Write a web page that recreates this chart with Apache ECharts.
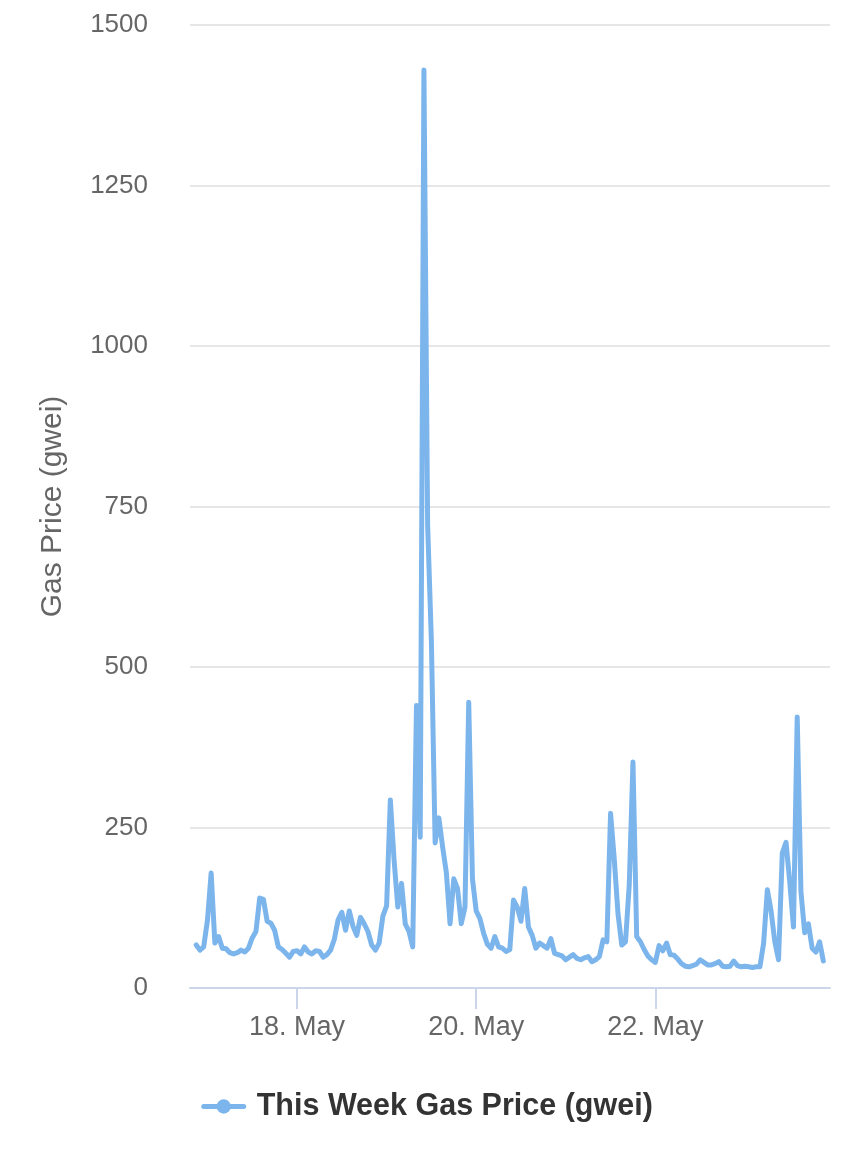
<!DOCTYPE html>
<html>
<head>
<meta charset="utf-8">
<script src="https://cdn.jsdelivr.net/npm/echarts@6/dist/echarts.min.js"></script>
<style>
html,body{margin:0;padding:0;background:#fff;}
#chart{width:854px;height:1155px;}
</style>
</head>
<body>
<div id="chart"></div>
<script>
// Hourly gas price readings (gwei), starting 16 May 2021 21:00 UTC
const seriesName = 'This Week Gas Price (gwei)';
const yAxisName = 'Gas Price (gwei)';
const startTime = Date.UTC(2021, 4, 16, 21, 0, 0);
const stepMs = 3600 * 1000;
const gasPrice = [
  67, 59, 64, 105, 179, 70, 80, 62, 61, 55,
  53, 55, 59, 56, 62, 78, 88, 140, 138, 104,
  101, 90, 64, 60, 54, 48, 57, 58, 53, 64,
  56, 53, 58, 57, 48, 52, 59, 76, 106, 118,
  90, 120, 96, 82, 110, 100, 88, 67, 59, 70,
  112, 128, 293, 200, 126, 163, 100, 88, 64, 440,
  235, 1430, 720, 540, 226, 265, 220, 180, 100, 170,
  155, 100, 126, 445, 170, 120, 108, 85, 68, 62,
  80, 64, 62, 57, 60, 137, 126, 104, 155, 95,
  82, 62, 70, 66, 62, 77, 54, 52, 50, 44,
  48, 52, 46, 44, 47, 49, 41, 44, 49, 75,
  72, 272, 200, 115, 67, 72, 160, 352, 80, 72,
  60, 50, 44, 40, 66, 58, 70, 52, 51, 45,
  38, 34, 33, 35, 37, 44, 40, 36, 36, 38,
  41, 34, 33, 34, 42, 35, 33, 34, 33, 32,
  33, 33, 70, 153, 120, 72, 44, 210, 227, 165,
  95, 422, 150, 86, 100, 62, 56, 72, 42
];
const xTickDates = [Date.UTC(2021, 4, 18), Date.UTC(2021, 4, 20), Date.UTC(2021, 4, 22)];
const monthNames = ['Jan','Feb','Mar','Apr','May','Jun','Jul','Aug','Sep','Oct','Nov','Dec'];
const xMin = Date.UTC(2021, 4, 16, 19, 20);
const xMax = Date.UTC(2021, 4, 23, 22, 47);

const data = gasPrice.map((v, i) => [startTime + i * stepMs, v]);
const FONT = '"Liberation Sans", Arial, Helvetica, sans-serif';

const chart = echarts.init(document.getElementById('chart'), null, {renderer: 'canvas'});
chart.setOption({
  animation: false,
  backgroundColor: '#ffffff',
  textStyle: {fontFamily: FONT},
  grid: {left: 190, right: 24, top: 25, bottom: 167, containLabel: false},
  legend: {
    data: [seriesName],
    left: 'center',
    top: 1086,
    itemWidth: 40,
    itemHeight: 18,
    itemGap: 10,
    lineStyle: {width: 5},
    textStyle: {fontFamily: FONT, fontSize: 30.5, fontWeight: 'bold', color: '#333333', padding: [0, 0, 0, 8]}
  },
  xAxis: {
    type: 'value',
    min: xMin,
    max: xMax,
    axisLine: {show: true, lineStyle: {color: '#ccd6eb', width: 2}},
    axisTick: {show: true, length: 21, lineStyle: {color: '#ccd6eb', width: 2}, customValues: xTickDates},
    axisLabel: {
      customValues: xTickDates,
      margin: 26,
      fontSize: 27,
      color: '#666666',
      fontFamily: FONT,
      formatter: function (v) {
        const d = new Date(v);
        return d.getUTCDate() + '. ' + monthNames[d.getUTCMonth()];
      }
    },
    splitLine: {show: false}
  },
  yAxis: {
    type: 'value',
    min: 0,
    max: 1500,
    interval: 250,
    name: yAxisName,
    nameLocation: 'middle',
    nameRotate: 90,
    nameGap: 122,
    nameTextStyle: {fontSize: 30, color: '#666666', fontFamily: FONT},
    axisLine: {show: false},
    axisTick: {show: false},
    axisLabel: {fontSize: 26, color: '#666666', margin: 42, fontFamily: FONT,
      formatter: function (v) { return String(v); }},
    splitLine: {show: true, lineStyle: {color: '#e6e6e6', width: 2}}
  },
  series: [{
    name: seriesName,
    type: 'line',
    data: data,
    showSymbol: false,
    symbol: 'circle',
    symbolSize: 18,
    color: '#7cb5ec',
    lineStyle: {color: '#7cb5ec', width: 5, join: 'round', cap: 'round'},
    itemStyle: {color: '#7cb5ec'}
  }]
});
</script>
</body>
</html>
